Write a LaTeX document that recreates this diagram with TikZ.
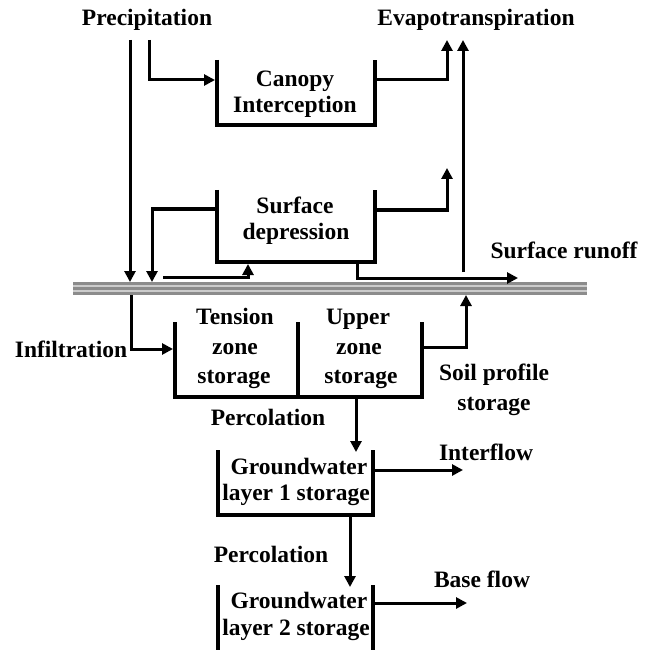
\documentclass[tikz,border=0pt]{standalone}
\usepackage{fontspec}
\setmainfont{Liberation Serif}
\usetikzlibrary{arrows.meta}
\begin{document}
\begin{tikzpicture}[x=1pt,y=-1pt,
  wall/.style={line width=4.5pt, line cap=butt, line join=miter},
  flow/.style={line width=3pt, line join=miter, -{Triangle[length=11pt,width=11pt]}},
  lbl/.style={font=\fontsize{23.5}{28}\selectfont\bfseries, inner sep=0pt, anchor=base},
  ground/.style={line width=2.4pt, draw=black!45}
]
\useasboundingbox (0,0) rectangle (651,650);

% ground surface
\fill[black!20] (73,282) rectangle (587,295);
\coordinate (gL) at (73,283.5); \coordinate (gR) at (587,283.5);
\draw[ground] (gL) -- (gR);
\draw[ground] ([yshift=-5pt]gL) -- ([yshift=-5pt]gR);
\draw[ground] ([yshift=-10pt]gL) -- ([yshift=-10pt]gR);

% labels
\node[lbl] (prec) at (147,26) {Precipitation};
\node[lbl] (evap) at (476,26) {Evapotranspiration};
\node[lbl] (can1) at (295,87) {Canopy};
\node[lbl] (can2) at (295,113) {Interception};
\node[lbl] (sd1) at (295,213) {Surface};
\node[lbl] (sd2) at (296,240) {depression};
\node[lbl] (runoff) at (564,258) {Surface runoff};
\node[lbl] (ts1) at (235,324) {Tension};
\node[lbl] (ts2) at (235,354) {zone};
\node[lbl] (ts3) at (234,383) {storage};
\node[lbl] (us1) at (358,324) {Upper};
\node[lbl] (us2) at (359,354) {zone};
\node[lbl] (us3) at (361,383) {storage};
\node[lbl] (infil) at (71,357) {Infiltration};
\node[lbl] (sp1) at (494,380) {Soil profile};
\node[lbl] (sp2) at (494,410) {storage};
\node[lbl] (perc1) at (268,425) {Percolation};
\node[lbl] (gw11) at (299,474) {Groundwater};
\node[lbl] (gw12) at (296,500) {layer 1 storage};
\node[lbl] (inter) at (486,460) {Interflow};
\node[lbl] (perc2) at (271,562) {Percolation};
\node[lbl] (gw21) at (299,608) {Groundwater};
\node[lbl] (gw22) at (296,635) {layer 2 storage};
\node[lbl] (base) at (482,587) {Base flow};

% storage boxes (open top)
\draw[wall] (217,60) -- (217,125) -- (375,125) -- (375,60);
\draw[wall] (217,190) -- (217,262) -- (375,262) -- (375,190);
\draw[wall] (175,322) -- (175,397) -- (422,397) -- (422,322);
\draw[wall] (298,322) -- (298,397);
\draw[wall] (218,450) -- (218,515) -- (373,515) -- (373,450);
\draw[wall] (218,585) -- (218,652) -- (373,652) -- (373,585);

% connector end points
\coordinate (pA) at (130,40);   \coordinate (pAg) at (130,282);
\coordinate (pB) at (149,40);   \coordinate (canIn) at (215,80);
\coordinate (canOut) at (375,80); \coordinate (etA) at (447,40);
\coordinate (roET) at (463,272); \coordinate (etB) at (463,40);
\coordinate (sdOut) at (375,210); \coordinate (etC) at (447,168);
\coordinate (sdLeft) at (217,209); \coordinate (sdG) at (152,282);
\coordinate (gS) at (163,277); \coordinate (sdIn) at (248,264);
\coordinate (sdBot) at (357,262); \coordinate (roEnd) at (518,278);
\coordinate (gInf) at (131,295); \coordinate (soilIn) at (173,349);
\coordinate (soilOut) at (422,347); \coordinate (gUp) at (466,295);
\coordinate (soilBot) at (356,397); \coordinate (gw1In) at (356,452);
\coordinate (gw1Out) at (373,470); \coordinate (interEnd) at (463,470);
\coordinate (gw1Bot) at (350,515); \coordinate (gw2In) at (350,587);
\coordinate (gw2Out) at (373,603); \coordinate (baseEnd) at (467,603);

% flows
\draw[flow] (pA) -- (pAg);
\draw[flow] (pB) |- (canIn);
\draw[flow] (canOut) -| (etA);
\draw[flow] (roET) -- (etB);
\draw[flow] (sdOut) -| (etC);
\draw[flow] (sdLeft) -| (sdG);
\draw[flow] (gS) -| (sdIn);
\draw[flow] (sdBot) |- (roEnd);
\draw[flow] (gInf) |- (soilIn);
\draw[flow] (soilOut) -| (gUp);
\draw[flow] (soilBot) -- (gw1In);
\draw[flow] (gw1Out) -- (interEnd);
\draw[flow] (gw1Bot) -- (gw2In);
\draw[flow] (gw2Out) -- (baseEnd);
\end{tikzpicture}
\end{document}
